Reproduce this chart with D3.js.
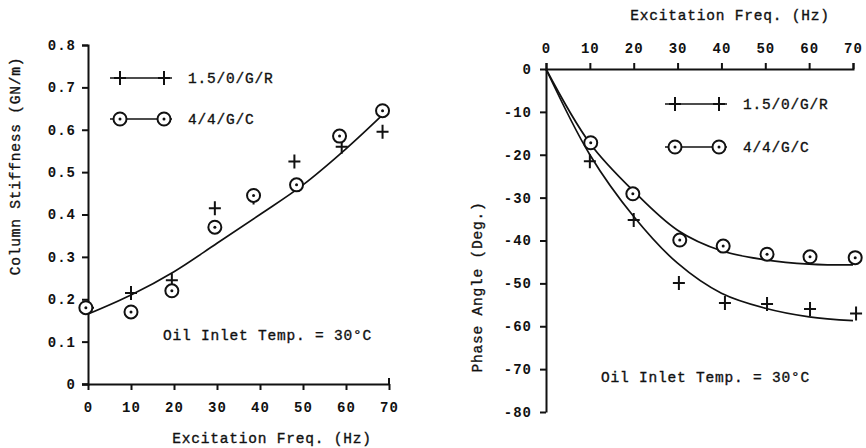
<!DOCTYPE html>
<html>
<head>
<meta charset="utf-8">
<script src="https://cdn.jsdelivr.net/npm/d3@7"></script>
<style>
    body { margin: 0; background: #fff; }
    svg text { font-family: "Liberation Mono", "DejaVu Sans Mono", monospace; fill: #111; }
    .tick text { font-weight: bold; font-size: 14px; letter-spacing: 1px; }
    .lbl { font-size: 14.5px; letter-spacing: 0.8px; stroke: #111; stroke-width: 0.35px; }
</style>
</head>
<body>
<svg id="chart" width="866" height="448"></svg>
<script>
    "use strict";

    // series names
    var seriesNames = ["1.5/0/G/R", "4/4/G/C"];

    // left panel: column stiffness (GN/m) vs excitation freq (Hz)
    var stiffFreqPlus = [0, 10, 19.5, 29.5, 38.5, 48, 59, 68.5];
    var stiffPlus = [0.18, 0.215, 0.245, 0.415, 0.44, 0.525, 0.56, 0.595];
    var stiffFreqCircle = [-0.5, 10, 19.5, 29.5, 38.5, 48.5, 58.5, 68.5];
    var stiffCircle = [0.18, 0.17, 0.22, 0.37, 0.445, 0.47, 0.585, 0.645];
    var stiffFitFreq = [0, 10, 20, 30, 40, 50, 60, 68.5];
    var stiffFit = [0.165, 0.21, 0.265, 0.332, 0.40, 0.47, 0.555, 0.635];
    var stiffTicksX = [0, 10, 20, 30, 40, 50, 60, 70];
    var stiffTicksY = [0, 0.1, 0.2, 0.3, 0.4, 0.5, 0.6, 0.7, 0.8];

    // right panel: phase angle (deg) vs excitation freq (Hz)
    var phaseFreqPlus = [10, 20, 30.3, 40.8, 50.4, 60.2, 70.7];
    var phasePlus = [-21.5, -35.2, -49.9, -54.6, -54.8, -56, -57];
    var phaseFreqCircle = [10.2, 19.8, 30.5, 40.4, 50.4, 60.2, 70.5];
    var phaseCircle = [-17.2, -29.1, -39.9, -41.3, -43.2, -43.8, -44];
    var phaseFitFreq = [0, 10, 20, 30, 40, 50, 60, 70];
    var phaseFitPlus = [0, -20, -34.4, -45.3, -52.3, -55.8, -57.8, -58.7];
    var phaseFitCircle = [0, -17.3, -28.5, -37.6, -42.4, -44.5, -45.5, -45.7];
    var phaseTicksX = [0, 10, 20, 30, 40, 50, 60, 70];
    var phaseTicksY = [0, -10, -20, -30, -40, -50, -60, -70, -80];

    var svg = d3.select("#chart");

    var zip = function (xs, ys) {
        return xs.map(function (x, i) { return [x, ys[i]]; });
    };

    var plus = function (g, pts, x, y) {
        g.selectAll(null).data(pts).enter().append("path")
            .attr("d", function (d) {
                var px = x(d[0]), py = y(d[1]);
                return "M" + (px - 6) + "," + py + "H" + (px + 6) +
                    "M" + px + "," + (py - 7) + "V" + (py + 7);
            })
            .attr("stroke", "#111").attr("stroke-width", 2).attr("fill", "none");
    };

    var circ = function (g, pts, x, y) {
        var c = g.selectAll(null).data(pts).enter().append("g")
            .attr("transform", function (d) { return "translate(" + x(d[0]) + "," + y(d[1]) + ")"; });
        c.append("circle").attr("r", 6.5).attr("fill", "#fff")
            .attr("stroke", "#111").attr("stroke-width", 2);
        c.append("circle").attr("r", 1.5).attr("fill", "#111");
    };

    var fitLine = function (g, pts, x, y) {
        g.append("path").datum(pts)
            .attr("d", d3.line().x(function (d) { return x(d[0]); })
                .y(function (d) { return y(d[1]); }).curve(d3.curveCatmullRom.alpha(0.5)))
            .attr("fill", "none").attr("stroke", "#111").attr("stroke-width", 1.7);
    };

    var legend = function (g, lx, ly, gap) {
        seriesNames.forEach(function (name, i) {
            var yy = ly + i * gap;
            g.append("line").attr("x1", lx).attr("x2", lx + 62)
                .attr("y1", yy).attr("y2", yy)
                .attr("stroke", "#111").attr("stroke-width", 1.7);
            var pts = [[lx + 10, yy], [lx + 54, yy]];
            var id = function (v) { return v; };
            if (i === 0) { plus(g, pts, id, id); } else { circ(g, pts, id, id); }
            g.append("text").attr("class", "lbl").attr("x", lx + 78).attr("y", yy + 5).text(name);
        });
    };

    var styleAxis = function (g) {
        g.selectAll("path, line").attr("stroke", "#111").attr("stroke-width", 2);
        g.selectAll("text").attr("fill", "#111");
    };

    // ---------- left panel ----------
    var xL = d3.scaleLinear().domain([0, 70]).range([88, 389]);
    var yL = d3.scaleLinear().domain([0, 0.8]).range([384, 45]);
    var left = svg.append("g");

    left.append("g").attr("transform", "translate(0," + yL(0) + ")")
        .call(d3.axisBottom(xL).tickValues(stiffTicksX).tickSizeOuter(-6).tickPadding(12)
            .tickFormat(d3.format("d")))
        .call(styleAxis).select(".domain").attr("d", "M82,0.5H" + xL(70) + "V-6");
    left.append("g").attr("transform", "translate(" + xL(0) + ",0)")
        .call(d3.axisLeft(yL).tickValues(stiffTicksY).tickPadding(6)
            .tickFormat(function (d) { return d === 0 ? "0" : d3.format(".1f")(d); }))
        .call(styleAxis);

    fitLine(left, zip(stiffFitFreq, stiffFit), xL, yL);
    plus(left, zip(stiffFreqPlus, stiffPlus), xL, yL);
    circ(left, zip(stiffFreqCircle, stiffCircle), xL, yL);
    legend(left, 110, 78, 41);

    left.append("text").attr("class", "lbl").attr("x", 163).attr("y", 340)
        .text("Oil Inlet Temp. = 30°C");
    left.append("text").attr("class", "lbl").attr("x", 272).attr("y", 443)
        .attr("text-anchor", "middle").text("Excitation Freq. (Hz)");
    left.append("text").attr("class", "lbl").attr("text-anchor", "middle")
        .attr("transform", "translate(20,166) rotate(-90)").text("Column Stiffness (GN/m)");

    // ---------- right panel ----------
    var xR = d3.scaleLinear().domain([0, 70]).range([546, 853]);
    var yR = d3.scaleLinear().domain([-80, 0]).range([412, 69]);
    var right = svg.append("g");

    right.append("g").attr("transform", "translate(0," + yR(0) + ")")
        .call(d3.axisTop(xR).tickValues(phaseTicksX).tickSizeOuter(6).tickPadding(10)
            .tickFormat(d3.format("d")))
        .call(styleAxis);
    right.append("g").attr("transform", "translate(" + xR(0) + ",0)")
        .call(d3.axisLeft(yR).tickValues(phaseTicksY).tickSizeOuter(0).tickPadding(8)
            .tickFormat(function (d) { return d === 0 ? "0" : "-" + Math.abs(d); }))
        .call(styleAxis);

    fitLine(right, zip(phaseFitFreq, phaseFitPlus), xR, yR);
    fitLine(right, zip(phaseFitFreq, phaseFitCircle), xR, yR);
    plus(right, zip(phaseFreqPlus, phasePlus), xR, yR);
    circ(right, zip(phaseFreqCircle, phaseCircle), xR, yR);
    legend(right, 665, 104, 43);

    right.append("text").attr("class", "lbl").attr("x", 601).attr("y", 382)
        .text("Oil Inlet Temp. = 30°C");
    right.append("text").attr("class", "lbl").attr("x", 730).attr("y", 20)
        .attr("text-anchor", "middle").text("Excitation Freq. (Hz)");
    right.append("text").attr("class", "lbl").attr("text-anchor", "middle")
        .attr("transform", "translate(482,287) rotate(-90)").text("Phase Angle (Deg.)");
</script>
</body>
</html>
